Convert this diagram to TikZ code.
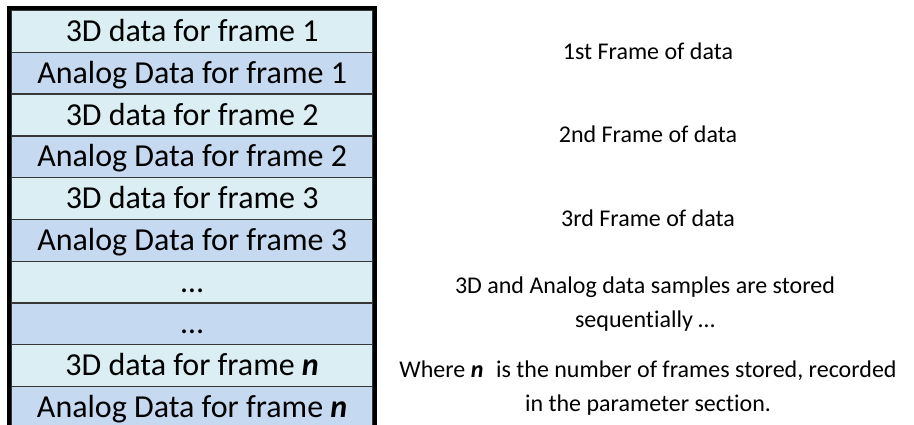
\documentclass[tikz,border=0pt]{standalone}
\usepackage{fontspec}
\setmainfont[Ligatures=NoCommon]{Carlito}
\definecolor{rowlight}{RGB}{218,238,243}
\definecolor{rowdark}{RGB}{197,217,241}
\definecolor{rulegray}{RGB}{55,55,55}
\newcommand{\framen}{\textbf{\textit{n}}}
\tikzset{
  cell/.style={draw=rulegray, line width=1.3pt, minimum width=361pt,
    minimum height=41.75pt, anchor=north west, inner sep=0pt,
    text height=20pt, text depth=0pt, font=\fontsize{32}{38}\selectfont},
  note/.style={anchor=base, inner sep=0pt, font=\fontsize{24}{34}\selectfont},
  frameborder/.style={line width=4pt, draw=black},
}
\begin{document}
\begin{tikzpicture}[x=1pt,y=-1pt]
\useasboundingbox (0,0) rectangle (914,425);
\clip (0,0) rectangle (914,425);

% stacked record layout, one cell per block
\foreach \txt/\col [count=\i from 0] in {
  {3D data for frame 1}/rowlight,
  {Analog Data for frame 1}/rowdark,
  {3D data for frame 2}/rowlight,
  {Analog Data for frame 2}/rowdark,
  {3D data for frame 3}/rowlight,
  {Analog Data for frame 3}/rowdark,
  {…}/rowlight,
  {…}/rowdark,
  {3D data for frame \framen}/rowlight,
  {Analog Data for frame \framen}/rowdark}
{
  \node[cell, fill=\col] (r\i) at (11, 10 + 41.75*\i) {\txt};
}

% heavy outer frame
\draw[frameborder] (9,430) -- (9,8) -- (374.5,8) -- (374.5,430);

% annotations
\node[note] (f1) at (648,59.5) {1st Frame of data};
\node[note] (f2) at (648,143) {2nd Frame of data};
\node[note] (f3) at (648,227) {3rd Frame of data};
\node[note] (s1) at (645,293.5) {3D and Analog data samples are stored};
\node[note] (s2) at (645,327.5) {sequentially …};
\node[note] (w1) at (648,377) {Where \framen\hspace{0.3em} is the number of frames stored, recorded};
\node[note] (w2) at (648,411.5) {in the parameter section.};
\end{tikzpicture}
\end{document}
